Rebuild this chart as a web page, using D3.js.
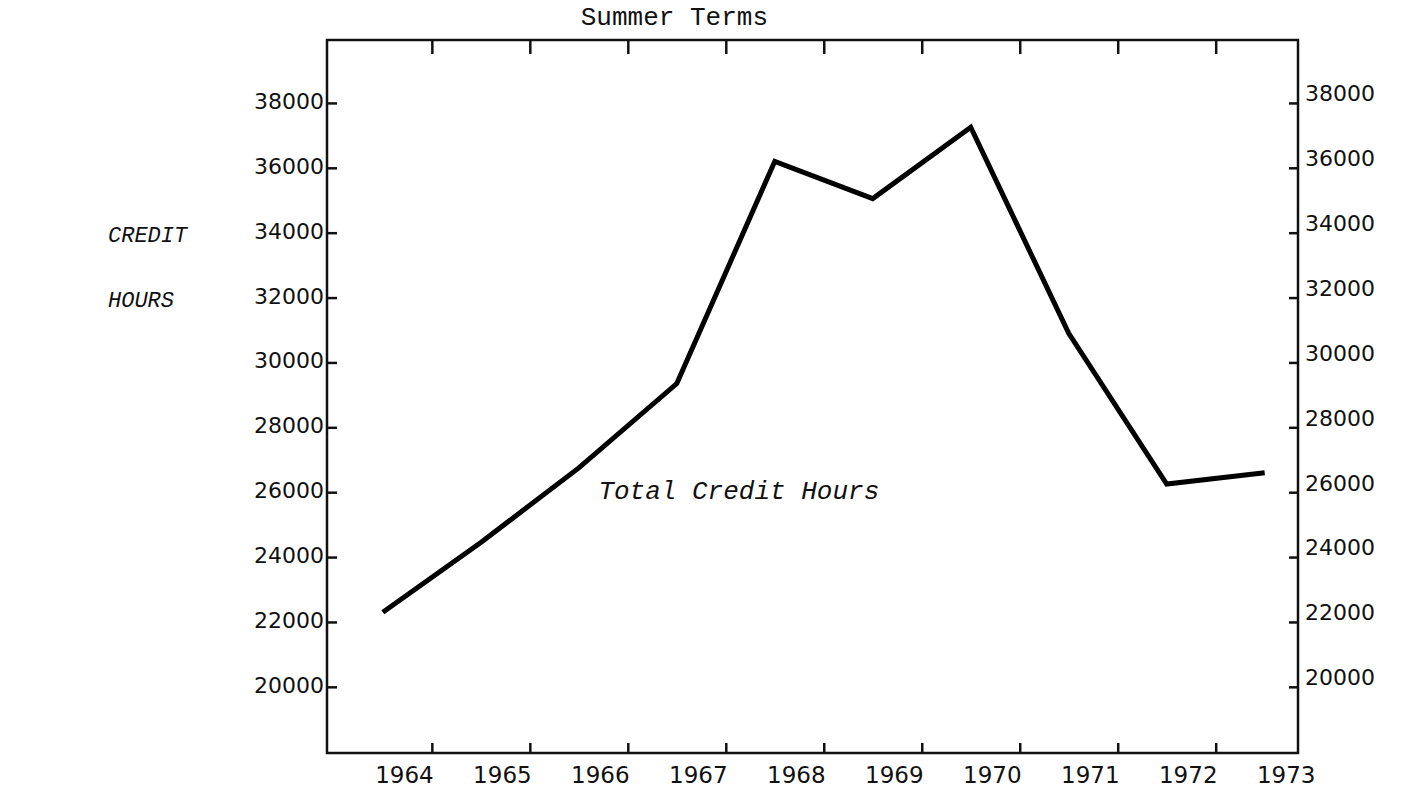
<!DOCTYPE html>
<html>
<head>
<meta charset="utf-8">
<script src="https://cdn.jsdelivr.net/npm/d3@7"></script>
<style>
  body { margin: 0; background: #fff; }
  svg { display: block; }
</style>
</head>
<body>
<svg id="chart"></svg>
<script>
// Summer term credit hours
const years = [1964, 1965, 1966, 1967, 1968, 1969, 1970, 1971, 1972, 1973];
const creditHours = [22300, 24450, 26750, 29350, 36200, 35050, 37250, 30900, 26250, 26600];
const yTicks = [20000, 22000, 24000, 26000, 28000, 30000, 32000, 34000, 36000, 38000];
const xTicks = [1964.5, 1965.5, 1966.5, 1967.5, 1968.5, 1969.5, 1970.5, 1971.5, 1972.5];

const W = 1419, H = 789;
const margin = { top: 40, right: 121, bottom: 36, left: 327 };
const width = W - margin.left - margin.right;
const height = H - margin.top - margin.bottom;

const svg = d3.select('#chart')
  .attr('width', W)
  .attr('height', H);

const g = svg.append('g')
  .attr('transform', `translate(${margin.left},${margin.top})`);

const x = d3.scaleLinear()
  .domain([1963.43, 1973.34])
  .range([0, width]);

const y = d3.scaleLinear()
  .domain([17960, 39940])
  .range([height, 0]);

const labelFont = '"DejaVu Sans", sans-serif';
const typeFont = '"Liberation Mono", "DejaVu Sans Mono", monospace';

// frame
g.append('rect')
  .attr('x', 0).attr('y', 0)
  .attr('width', width).attr('height', height)
  .attr('fill', 'none')
  .attr('stroke', '#111')
  .attr('stroke-width', 2.5);

// left axis: ticks point inward, labels butt against the frame
const leftAxis = g.append('g')
  .call(d3.axisLeft(y).tickValues(yTicks).tickSize(-10).tickPadding(3).tickFormat(d3.format('d')));
leftAxis.select('.domain').remove();
leftAxis.selectAll('line').attr('stroke', '#111').attr('stroke-width', 2.5);
leftAxis.selectAll('text')
  .attr('font-family', labelFont)
  .attr('font-size', 22)
  .attr('fill', '#111')
  .attr('dy', '0.25em');

// right axis: ticks inward, labels sit just above the tick
const rightAxis = g.append('g')
  .attr('transform', `translate(${width},0)`)
  .call(d3.axisRight(y).tickValues(yTicks).tickSize(-9).tickPadding(7).tickFormat(d3.format('d')));
rightAxis.select('.domain').remove();
rightAxis.selectAll('line').attr('stroke', '#111').attr('stroke-width', 2.5);
rightAxis.selectAll('text')
  .attr('font-family', labelFont)
  .attr('font-size', 22)
  .attr('fill', '#111')
  .attr('dy', '-0.1em');

// top ticks
const topAxis = g.append('g')
  .call(d3.axisTop(x).tickValues(xTicks).tickSize(-14).tickFormat(''));
topAxis.select('.domain').remove();
topAxis.selectAll('line').attr('stroke', '#111').attr('stroke-width', 2.5);

// bottom ticks
const bottomAxis = g.append('g')
  .attr('transform', `translate(0,${height})`)
  .call(d3.axisBottom(x).tickValues(xTicks).tickSize(-10).tickFormat(''));
bottomAxis.select('.domain').remove();
bottomAxis.selectAll('line').attr('stroke', '#111').attr('stroke-width', 2.5);

// year labels, set a little right of each data column
g.append('g')
  .selectAll('text')
  .data(years)
  .join('text')
  .attr('x', d => x(d + 0.22))
  .attr('y', height + 30)
  .attr('text-anchor', 'middle')
  .attr('font-family', labelFont)
  .attr('font-size', 23)
  .attr('fill', '#111')
  .text(d => d);

// the line
const line = d3.line()
  .x((d, i) => x(years[i]))
  .y(d => y(d));

g.append('path')
  .datum(creditHours)
  .attr('fill', 'none')
  .attr('stroke', '#000')
  .attr('stroke-width', 5)
  .attr('stroke-linejoin', 'miter')
  .attr('d', line);

// series label
g.append('text')
  .attr('x', x(1966.2))
  .attr('y', y(26000) + 7)
  .attr('font-family', typeFont)
  .attr('font-style', 'italic')
  .attr('font-size', 26)
  .attr('fill', '#111')
  .text('Total Credit Hours');

// title
svg.append('text')
  .attr('x', margin.left + x(1966.02))
  .attr('y', 25)
  .attr('font-family', typeFont)
  .attr('font-size', 26)
  .attr('fill', '#111')
  .text('Summer Terms');

// y axis title, two lines
svg.append('g')
  .selectAll('text')
  .data(['CREDIT', 'HOURS'])
  .join('text')
  .attr('x', 108)
  .attr('y', (d, i) => margin.top + y(i === 0 ? 34000 : 32000) + 9)
  .attr('font-family', typeFont)
  .attr('font-style', 'italic')
  .attr('font-size', 22)
  .attr('fill', '#111')
  .text(d => d);
</script>
</body>
</html>
